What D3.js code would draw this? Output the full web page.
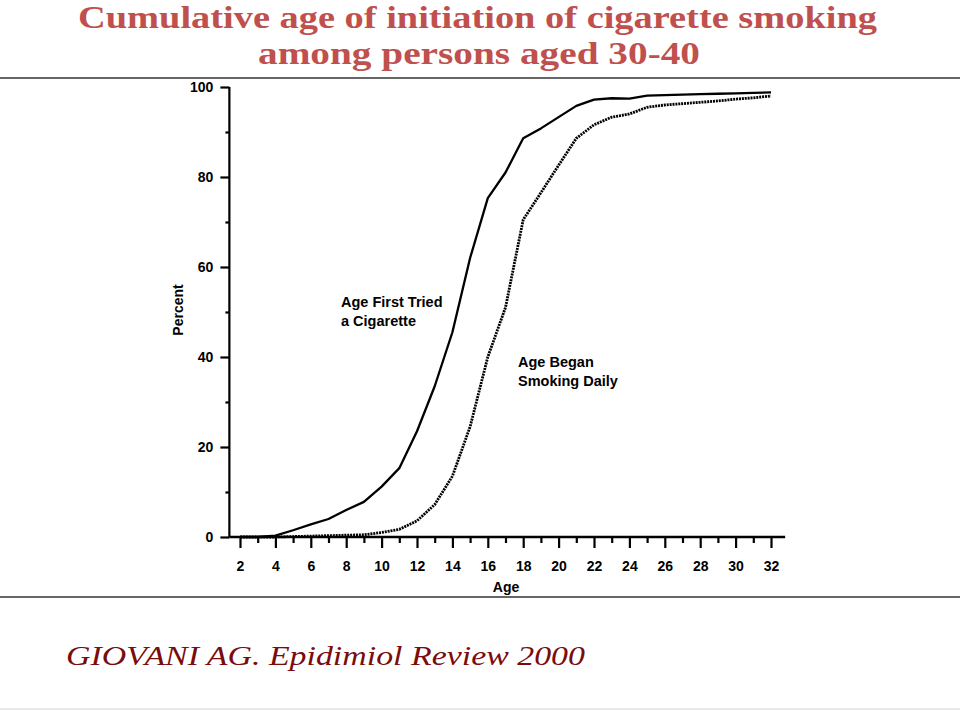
<!DOCTYPE html>
<html>
<head>
<meta charset="utf-8">
<script src="https://cdn.jsdelivr.net/npm/d3@7"></script>
<style>
  html, body { margin: 0; padding: 0; background: #fff; }
  svg { display: block; }
</style>
</head>
<body>
<svg id="chart" width="960" height="712"></svg>
<script>
// ---- Data ----
const titleLines = ["Cumulative age of initiation of cigarette smoking", "among persons aged 30-40"];
const footerText = "GIOVANI AG. Epidimiol Review 2000";
const ages = [2,3,4,5,6,7,8,9,10,11,12,13,14,15,16,17,18,19,20,21,22,23,24,25,26,27,28,29,30,31,32];
const firstTried = [0,0,0.3,1.5,2.8,4.0,6.0,7.8,11.2,15.3,23.5,33.5,45.5,62,75.3,81,88.6,90.8,93.3,95.8,97.2,97.5,97.4,98.1,98.2,98.3,98.4,98.5,98.6,98.7,98.8];
const beganDaily = [0,0,0,0.1,0.2,0.3,0.4,0.5,1.0,1.7,3.6,7.2,13.5,24.5,40,51,70.5,76.5,82.6,88.6,91.6,93.3,94.0,95.5,96.0,96.3,96.6,96.9,97.3,97.6,98.0];
const xMajorTicks = [2,4,6,8,10,12,14,16,18,20,22,24,26,28,30,32];
const xMinorTicks = [3,5,7,9,11,13,15,17,19,21,23,25,27,29,31];
const yMajorTicks = [0,20,40,60,80,100];
const yMinorTicks = [10,30,50,70,90];
const labelTried = ["Age First Tried", "a Cigarette"];
const labelDaily = ["Age Began", "Smoking Daily"];
const xAxisTitle = "Age";
const yAxisTitle = "Percent";

// ---- Layout ----
const svg = d3.select("#chart");
svg.append("rect").attr("width", 960).attr("height", 712).attr("fill", "#fff");

const x = d3.scaleLinear().domain([2, 32]).range([240, 771]);
const y = d3.scaleLinear().domain([0, 100]).range([537, 87]);
const xAxisStart = 1.4, xAxisEnd = 32.8;
const axisFont = "'Liberation Sans Narrow', 'Arial Narrow', 'Liberation Sans', Arial, sans-serif";

// Title
const titleColor = "#c0504d";
const title = svg.append("g");
title.append("text").attr("x", 477.5).attr("y", 28)
  .attr("text-anchor", "middle").attr("textLength", 799).attr("lengthAdjust", "spacingAndGlyphs")
  .style("font-family", "'Liberation Serif', 'Times New Roman', serif").style("font-weight", "bold")
  .style("font-size", "31px").attr("fill", titleColor).text(titleLines[0]);
title.append("text").attr("x", 479).attr("y", 64)
  .attr("text-anchor", "middle").attr("textLength", 442).attr("lengthAdjust", "spacingAndGlyphs")
  .style("font-family", "'Liberation Serif', 'Times New Roman', serif").style("font-weight", "bold")
  .style("font-size", "31px").attr("fill", titleColor).text(titleLines[1]);

// Rules
svg.append("line").attr("x1", 0).attr("x2", 960).attr("y1", 78).attr("y2", 78).attr("stroke", "#333").attr("stroke-width", 1.5);
svg.append("line").attr("x1", 0).attr("x2", 960).attr("y1", 597).attr("y2", 597).attr("stroke", "#333").attr("stroke-width", 1.5);
svg.append("line").attr("x1", 0).attr("x2", 960).attr("y1", 709).attr("y2", 709).attr("stroke", "#e8e8e8").attr("stroke-width", 2);

// Footer
svg.append("text").attr("x", 66).attr("y", 665).attr("textLength", 519).attr("lengthAdjust", "spacingAndGlyphs")
  .style("font-family", "'Liberation Serif', 'Times New Roman', serif").style("font-style", "italic")
  .style("font-size", "28px").attr("fill", "#7a0c0c").text(footerText);

// ---- Lines ----
const tried = ages.map((a, i) => ({age: a, v: firstTried[i]}));
const daily = ages.map((a, i) => ({age: a, v: beganDaily[i]}));
const line = d3.line().x(d => x(d.age)).y(d => y(d.v));

svg.append("path").datum(daily).attr("d", line).attr("fill", "none")
  .attr("stroke", "#000").attr("stroke-width", 2.8).attr("stroke-dasharray", "2,0.9");
svg.append("path").datum(tried).attr("d", line).attr("fill", "none")
  .attr("stroke", "#000").attr("stroke-width", 2.3).attr("stroke-linejoin", "round");

// ---- Axes ----
const xMajor = d3.axisBottom(x).tickValues(xMajorTicks).tickSize(11).tickPadding(13).tickFormat(d3.format("d"));
const xMinor = d3.axisBottom(x).tickValues(xMinorTicks).tickSize(6).tickFormat("");
const gx = svg.append("g").attr("transform", `translate(0,${y(0)})`);
gx.append("g").call(xMajor);
gx.append("g").call(xMinor);
gx.selectAll(".domain").remove();
gx.selectAll("line").attr("stroke", "#000").attr("stroke-width", 2.2);
gx.selectAll("text").style("font-family", axisFont).style("font-weight", "bold").style("font-size", "14px").attr("fill", "#000");
gx.append("line").attr("x1", x(xAxisStart)).attr("x2", x(xAxisEnd)).attr("y1", 0).attr("y2", 0)
  .attr("stroke", "#000").attr("stroke-width", 2.6);

const yMajor = d3.axisLeft(y).tickValues(yMajorTicks).tickSize(9).tickPadding(7).tickFormat(d3.format("d"));
const yMinor = d3.axisLeft(y).tickValues(yMinorTicks).tickSize(4).tickFormat("");
const gy = svg.append("g").attr("transform", `translate(${x(xAxisStart)},0)`);
gy.append("g").call(yMajor);
gy.append("g").call(yMinor);
gy.selectAll(".domain").remove();
gy.selectAll("line").attr("stroke", "#000").attr("stroke-width", 2.2);
gy.selectAll("text").style("font-family", axisFont).style("font-weight", "bold").style("font-size", "14px").attr("fill", "#000");
gy.append("line").attr("x1", 0).attr("x2", 0).attr("y1", y(0)).attr("y2", y(100))
  .attr("stroke", "#000").attr("stroke-width", 2.2);

// Axis titles
svg.append("text").attr("x", 506).attr("y", 592).attr("text-anchor", "middle")
  .style("font-family", axisFont).style("font-weight", "bold").style("font-size", "14px").attr("fill", "#000").text(xAxisTitle);
svg.append("text").attr("transform", "translate(183,310) rotate(-90)").attr("text-anchor", "middle")
  .style("font-family", axisFont).style("font-weight", "bold").style("font-size", "14px").attr("fill", "#000").text(yAxisTitle);

// Annotations
const annFont = "'Liberation Sans', Arial, sans-serif";
function ann(lines, x0, y0) {
  const t = svg.append("text").style("font-family", annFont).style("font-weight", "bold")
    .style("font-size", "14.5px").attr("fill", "#000");
  lines.forEach((s, i) => t.append("tspan").attr("x", x0).attr("y", y0 + i * 19).text(s));
}
ann(labelTried, 341, 307);
ann(labelDaily, 518, 367);
</script>
</body>
</html>
